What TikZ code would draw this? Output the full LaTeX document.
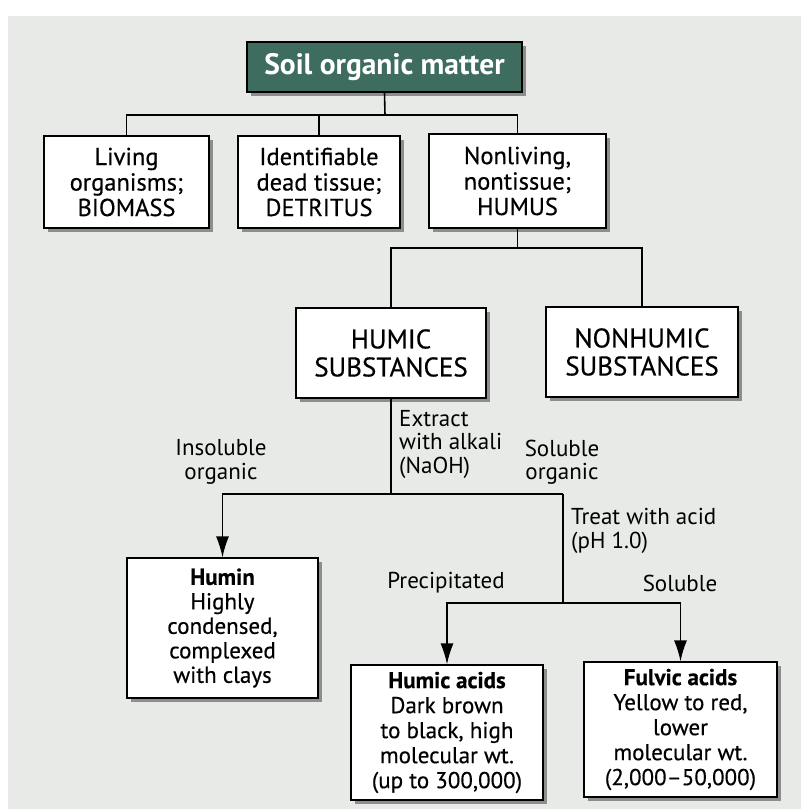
\documentclass[tikz,border=0pt]{standalone}
\usepackage{fontspec}
\setmainfont{PT Sans}
\newfontfamily\medfont{PT Sans}[FakeBold=0.4,Ligatures=TeX]
\usetikzlibrary{arrows.meta,shadows}
\definecolor{bg}{HTML}{E7EAE7}
\definecolor{teal}{HTML}{3E6D5F}
\definecolor{shad}{HTML}{8C8E8C}
\tikzset{
  box/.style={draw=black, line width=1.2pt, fill=white, align=center, inner sep=1pt,
    font=\medfont\fontsize{24.5}{25.5}\selectfont,
    drop shadow={shadow xshift=4pt, shadow yshift=-4pt, fill=shad, opacity=1}},
  topbox/.style={box, fill=teal, text=white, font=\fontsize{29.5}{31}\selectfont\bfseries},
  lbl/.style={font=\fontsize{23}{23.5}\selectfont, inner sep=0pt},
  conn/.style={line width=1.6pt},
  arr/.style={conn, -{Latex[length=21pt,width=13pt]}}
}
\begin{document}
\begin{tikzpicture}[x=1pt,y=-1pt]
\useasboundingbox (0,0) rectangle (801,809);
\fill[white] (0,0) rectangle (801,809);
\fill[bg] (8,16) rectangle (801,809);

\node[topbox, minimum width=275pt, minimum height=50pt] (som) at (384.5,67) {Soil organic matter};
\node[box, minimum width=165pt, minimum height=92pt] (bio) at (126.5,182) {Living\\organisms;\\BIOMASS};
\node[box, minimum width=162pt, minimum height=92pt] (det) at (319,182) {Identifiable\\dead tissue;\\DETRITUS};
\node[box, minimum width=177pt, minimum height=94pt] (hum) at (517.5,181) {Nonliving,\\nontissue;\\HUMUS};
\node[box, minimum width=190pt, minimum height=90pt, font=\medfont\fontsize{27}{28}\selectfont] (hs) at (391,353) {HUMIC\\SUBSTANCES};
\node[box, minimum width=192pt, minimum height=90pt, font=\medfont\fontsize{27}{28}\selectfont] (nhs) at (642,352) {NONHUMIC\\SUBSTANCES};
\node[box, minimum width=191pt, minimum height=140pt, font=\medfont\fontsize{23}{24.5}\selectfont] (humin) at (222.5,628) {\textbf{Humin}\\Highly\\condensed,\\complexed\\with clays};
\node[box, minimum width=192pt, minimum height=135pt, font=\medfont\fontsize{23}{25}\selectfont] (ha) at (447,732.5) {\textbf{Humic acids}\\Dark brown\\to black, high\\molecular wt.\\(up to 300,000)};
\node[box, minimum width=193pt, minimum height=135pt, font=\medfont\fontsize{23}{25}\selectfont] (fa) at (680.5,729.5) {\textbf{Fulvic acids}\\Yellow to red,\\lower\\molecular wt.\\(2,000–50,000)};

\coordinate (j1) at (385,115);
\coordinate (j2) at (519,248);
\coordinate (j3) at (391,494);
\coordinate (c3) at (563,494);
\coordinate (c4) at (563,603);

\draw[conn] (som.south) -- (j1);
\draw[conn] (bio.north) |- (j1) -| (hum.north);
\draw[conn] (det.north) -- (det.north |- j1);
\draw[conn] (hum.south) -- (hum.south |- j2);
\draw[conn] (hs.north) |- (j2) -| (nhs.north);
\draw[conn] (hs.south) -- (hs.south |- j3);
\draw[arr] (c3) -| (humin.north);
\draw[conn] (c3) -- (c4);
\draw[arr] (c4) -| (ha.north);
\draw[arr] (c4) -| (fa.north);

\node[lbl, anchor=west, align=left] (ext) at (399,444) {Extract\\with alkali\\(NaOH)};
\node[lbl, align=center] (ins) at (221,462) {Insoluble\\organic};
\node[lbl, align=center] (sol) at (562,462) {Soluble\\organic};
\node[lbl, anchor=west, align=left] (acid) at (571,531) {Treat with acid\\(pH 1.0)};
\node[lbl] (prec) at (446,583) {Precipitated};
\node[lbl] (sol2) at (680,583) {Soluble};
\end{tikzpicture}
\end{document}
